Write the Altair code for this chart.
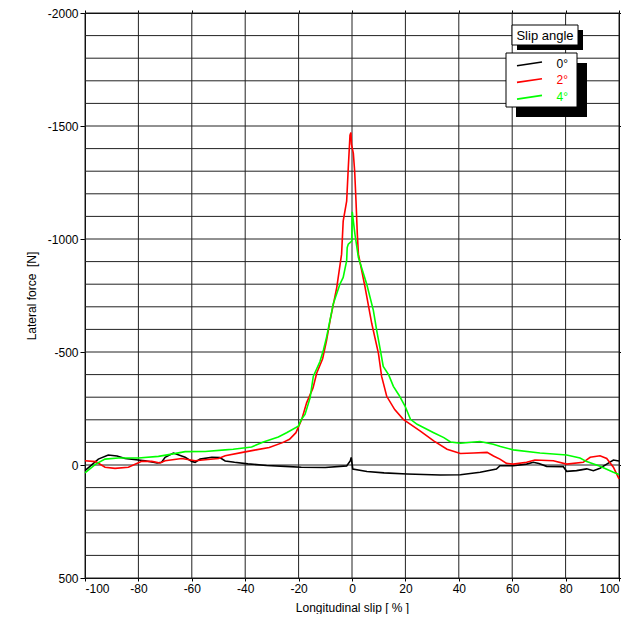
import altair as alt
import pandas as pd

# ---------------- data ----------------
series_names = ["0°", "2°", "4°"]
series_colors = ["#000000", "#ff0000", "#00ff00"]

slip_0 = [-100, -95, -91.3, -88, -85, -77.5, -73, -71.3, -70, -66.9,
          -62.5, -60, -58.75, -56.9, -52.5, -49.5, -47.5, -44, -39, -32,
          -25, -19, -10, -2, -0.6, -0.3, 0.3, 5.6, 12, 20.6,
          33, 40.6, 48, 54.1, 55.4, 60.4, 65.4, 67.9, 70, 72.9,
          79.1, 80.4, 84.1, 87.9, 90.4, 92.9, 95.4, 97.9, 100]
force_0 = [25, -26, -44, -40, -29, -19, -9, -12, -34, -53,
           -34, -16, -12, -26, -34, -33, -18, -12, -5, 2,
           6, 10, 11, 4, -19, -34, 18, 29, 35, 40,
           44, 43, 32, 18, 3, 3, -4, -12, -7, 6,
           7, 28, 25, 17, 25, 14, -4, -22, -18]

slip_2 = [-100, -96, -92.5, -88.75, -83.75, -78.75, -75, -71.9, -70, -63.75,
          -58.75, -55, -50, -47.5, -41, -36, -31, -26, -23.4, -21,
          -18.8, -17, -14.6, -13.2, -11, -9.5, -8.2, -5.7, -3.9, -3.3,
          -2.0, -1.4, -0.75, -0.4, -0.2, 0.5, 1.0, 1.5, 2.0, 2.4,
          4.9, 7.4, 9.9, 11.1, 13, 16, 19.2, 25.6, 30.6, 35.6,
          40.6, 45.6, 50.6, 53, 55.4, 57.9, 60.4, 65.4, 68.5, 75.4,
          80.4, 86.6, 89.2, 92.9, 95.4, 97.9, 100]
force_2 = [-19, -15, 10, 15, 10, -16, -16, -9, -19, -29,
           -19, -23, -29, -41, -56, -67, -77, -99, -114, -143,
           -202, -275, -341, -407, -470, -553, -640, -786, -933, -1079,
           -1167, -1313, -1459, -1471, -1420, -1379, -1300, -1167, -1020, -933,
           -786, -626, -494, -392, -304, -245, -202, -150, -107, -70,
           -51, -53, -56, -40, -26, -7, -4, -12, -22, -19,
           -4, -12, -34, -41, -29, 10, 61]

slip_4 = [-100, -96, -92.5, -87.5, -80, -72.5, -67.5, -62.5, -55, -47.5,
          -44.5, -37.6, -33.2, -27.6, -24.5, -20.1, -18.8, -17.6, -15.7, -14.5,
          -12, -10.7, -9.5, -7, -4.5, -3.3, -2, -1.8, -1.4, -0.1,
          0.1, 1.1, 2.4, 5.5, 8, 9.25, 10.6, 11.7, 13.75, 15.5,
          17.5, 19.9, 21.9, 24.4, 30.6, 34.4, 36.9, 40.6, 47.9, 52.9,
          55.6, 60.4, 70.4, 80.4, 85.4, 87.9, 92.9, 97.9, 100]
force_4 = [35, -4, -26, -31, -31, -38, -48, -59, -60, -67,
           -70, -80, -102, -124, -143, -172, -205, -224, -297, -392,
           -458, -509, -567, -714, -801, -830, -904, -962, -977, -991,
           -1120, -1021, -918, -801, -684, -596, -509, -436, -399, -348,
           -311, -260, -202, -180, -143, -121, -102, -96, -104, -92,
           -82, -67, -53, -44, -31, -15, 6, 32, 42]

x_ticks = list(range(-100, 101, 20))
y_ticks = list(range(-2000, 501, 500))
y_grid = list(range(-2000, 501, 100))

rows = []
for name, xs, vs in zip(series_names, [slip_0, slip_2, slip_4], [force_0, force_2, force_4]):
    for i, (a, b) in enumerate(zip(xs, vs)):
        rows.append({"slip": a, "force": b, "angle": name, "idx": i})
df = pd.DataFrame(rows)

# ---------------- chart ----------------
FONT = "Liberation Sans"
xscale = alt.Scale(domain=[-100, 100], nice=False, zero=False)
yscale = alt.Scale(domain=[-2000, 500], nice=False, zero=False, reverse=True)
GRID = "#222222"

vgrid = alt.Chart(pd.DataFrame({"gx": x_ticks})).mark_rule(color=GRID, strokeWidth=1).encode(
    x=alt.X("gx:Q", scale=xscale,
            axis=alt.Axis(orient="top", values=x_ticks, labels=False, tickSize=3,
                          domain=False, grid=False, title=None))
)
hgrid = alt.Chart(pd.DataFrame({"gy": y_grid})).mark_rule(color=GRID, strokeWidth=1).encode(
    y=alt.Y("gy:Q", scale=yscale,
            axis=alt.Axis(orient="right", values=y_ticks, labels=False, tickSize=3,
                          domain=False, grid=False, title=None))
)

lines = alt.Chart(df).mark_line(strokeWidth=1.6).encode(
    x=alt.X("slip:Q", scale=xscale,
            axis=alt.Axis(orient="bottom", values=x_ticks, labelExpr="'' + datum.value",
                          tickSize=3, labelPadding=2, grid=False,
                          title="Longitudinal slip [ % ]", titlePadding=8)),
    y=alt.Y("force:Q", scale=yscale,
            axis=alt.Axis(orient="left", values=y_ticks, labelExpr="'' + datum.value",
                          tickSize=5, labelPadding=2, grid=False,
                          title="Lateral force\u00a0 [N]", titlePadding=9)),
    color=alt.Color("angle:N", scale=alt.Scale(domain=series_names, range=series_colors), legend=None),
    order=alt.Order("idx:Q"),
)

one = pd.DataFrame({"a": [0]})


def box(x1, y1, x2, y2, fill, stroke=None):
    kw = {"fill": fill}
    if stroke:
        kw.update(stroke=stroke, strokeWidth=1)
    return alt.Chart(one).mark_rect(**kw).encode(
        x=alt.value(x1), x2=alt.value(x2), y=alt.value(y1), y2=alt.value(y2))


legend_layers = [
    box(432, 17, 498, 37, "black"),
    box(427, 12, 493, 32, "white", "black"),
    alt.Chart(one).mark_text(text="Slip angle", align="center", baseline="middle",
                             fontSize=13, font=FONT, color="black").encode(
        x=alt.value(460), y=alt.value(22.5)),
    box(431, 50, 502, 104, "black"),
    box(421, 40, 492, 94, "white", "black"),
]
for i, (name, col) in enumerate(zip(series_names, series_colors)):
    yy = 52.7 + i * 16.7
    legend_layers.append(
        alt.Chart(one).mark_rule(color=col, strokeWidth=1.6).encode(
            x=alt.value(432), x2=alt.value(457), y=alt.value(yy), y2=alt.value(yy - 3.7)))
    legend_layers.append(
        alt.Chart(one).mark_text(text=name, align="right", baseline="middle",
                                 fontSize=12, font=FONT, color=col).encode(
            x=alt.value(483), y=alt.value(yy - 2)))

chart = alt.layer(vgrid, hgrid, lines, *legend_layers).resolve_axis(
    x="independent", y="independent"
).properties(
    width=534, height=565, autosize="none",
    padding={"left": 77, "top": 5, "right": 2, "bottom": 36},
).configure_view(stroke="black", strokeWidth=1).configure_axis(
    labelFont=FONT, titleFont=FONT, labelFontSize=12, titleFontSize=12,
    labelColor="black", titleColor="black", titleFontWeight="normal",
    domainColor="black", tickColor="black",
)

chart.save("out.html", embed_options={"renderer": "svg", "actions": False})
